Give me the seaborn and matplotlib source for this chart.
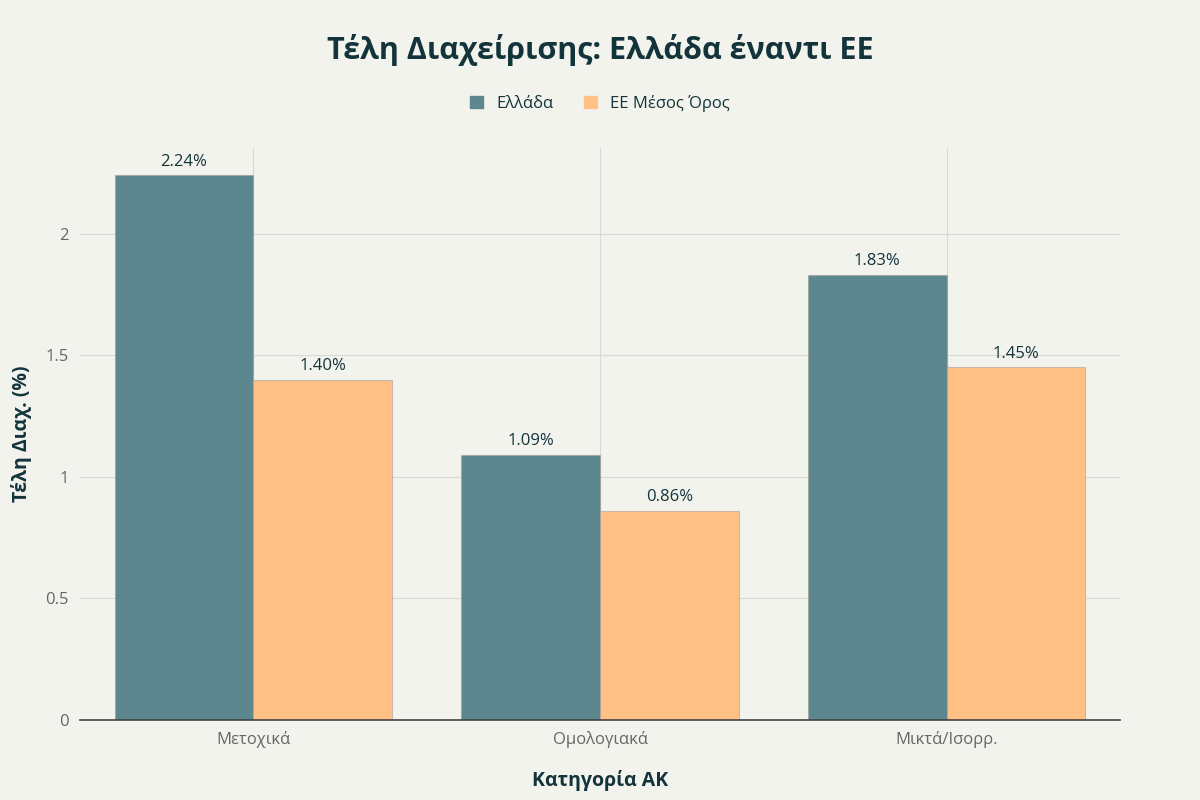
import matplotlib
matplotlib.use("Agg")
import matplotlib.pyplot as plt
import seaborn as sns
import pandas as pd

categories = ["Μετοχικά", "Ομολογιακά", "Μικτά/Ισορρ."]
greece = [2.24, 1.09, 1.83]
eu_avg = [1.40, 0.86, 1.45]
series_names = ["Ελλάδα", "ΕΕ Μέσος Όρος"]

bg = "#f3f3ee"
dark = "#13343b"
colors = ["#5d878f", "#ffc185"]

df = pd.DataFrame({
    "category": categories * 2,
    "value": greece + eu_avg,
    "series": [series_names[0]] * 3 + [series_names[1]] * 3,
})

sns.set_theme(style="whitegrid")
plt.rcParams["font.family"] = ["Open Sans", "DejaVu Sans"]

fig = plt.figure(figsize=(12, 8), dpi=100, facecolor=bg)
ax = fig.add_axes([0.0667, 0.1, 0.8666, 0.715])
ax.set_facecolor(bg)

sns.barplot(data=df, x="category", y="value", hue="series", order=categories,
            hue_order=series_names, palette=colors, saturation=1, width=0.8, gap=0,
            edgecolor=(0.6, 0.6, 0.6, 0.5), linewidth=0.8, ax=ax, legend=False)

for cont in ax.containers:
    ax.bar_label(cont, labels=[f"{v:.2f}%" for v in cont.datavalues],
                 padding=4, fontsize=12, color=dark)

ax.set_xlim(-0.5, 2.5)
ax.set_ylim(0, 2.352)
ax.set_yticks([0, 0.5, 1, 1.5, 2])
ax.set_yticklabels(["0", "0.5", "1", "1.5", "2"])
ax.grid(True, axis="both", color="#d8d8d4", linewidth=0.8)
ax.set_axisbelow(True)
for s in ["top", "right", "left"]:
    ax.spines[s].set_visible(False)
ax.spines["bottom"].set_color("#444444")
ax.spines["bottom"].set_linewidth(1.2)
ax.tick_params(axis="both", length=0, labelsize=12, labelcolor="#666666", pad=8)

ax.set_xlabel("Κατηγορία ΑΚ", fontsize=14, fontweight="bold", color=dark, labelpad=16)
ax.set_ylabel("Τέλη Διαχ. (%)", fontsize=14, fontweight="bold", color=dark)
ax.yaxis.set_label_coords(-0.046, 0.5)

fig.text(0.5, 0.937, "Τέλη Διαχείρισης: Ελλάδα έναντι ΕΕ", ha="center", va="center",
         fontsize=22, fontweight="bold", color=dark)

handles = [plt.Rectangle((0, 0), 1, 1, color=c) for c in colors]
fig.legend(handles, series_names, loc="center", bbox_to_anchor=(0.5, 0.871), ncol=2,
           frameon=False, fontsize=12, handlelength=0.8, handleheight=0.8,
           columnspacing=1.8, handletextpad=0.8, labelcolor=dark)

fig.savefig("out.png", dpi=100, facecolor=bg)
